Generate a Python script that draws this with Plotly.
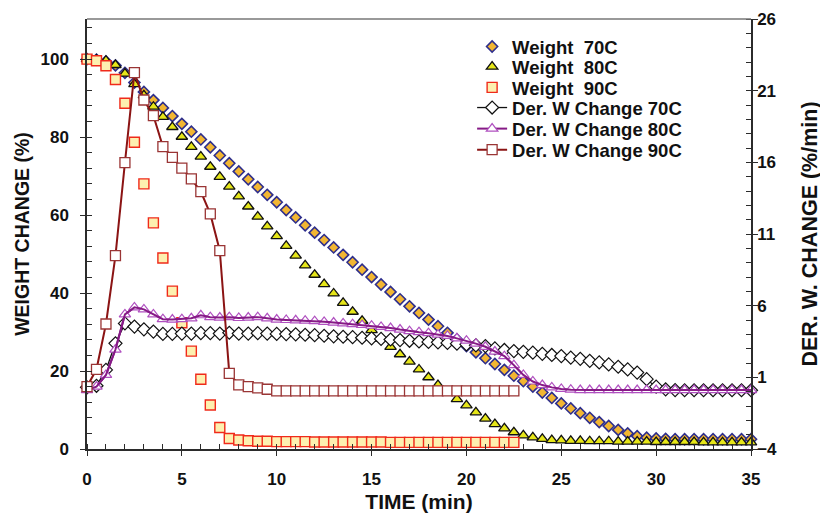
import plotly.graph_objects as go

# ---------------- data ----------------
time_full = [i * 0.5 for i in range(71)]          # 0 .. 35 min
time_90 = [i * 0.5 for i in range(46)]            # 0 .. 22.5 min

weight_70 = [100, 99.9, 99.4, 98.4, 96.5, 94.0, 91.6, 89.5, 87.5, 85.4,
             83.4, 81.4, 79.4, 77.4, 75.3, 73.3, 71.2, 69.2, 67.2, 65.2,
             63.3, 61.3, 59.4, 57.4, 55.5, 53.6, 51.7, 49.8, 47.9, 46.0,
             44.1, 42.2, 40.3, 38.4, 36.6, 34.9, 33.2, 31.5, 29.8, 28.1,
             26.4, 24.8, 23.3, 21.8, 20.3, 18.8, 17.4, 16.0, 14.5, 13.1,
             11.7, 10.4, 9.2, 8.0, 6.9, 5.9, 4.9, 4.0, 3.3, 2.9,
             2.7, 2.6, 2.5, 2.5, 2.5, 2.5, 2.5, 2.5, 2.5, 2.5, 2.5]

weight_80 = [100, 99.9, 99.6, 98.5, 96.3, 93.6, 90.7, 87.8, 85.2, 82.6,
             80.1, 77.5, 75.0, 72.4, 69.8, 67.3, 64.8, 62.2, 59.6, 57.1,
             54.6, 52.1, 49.6, 47.1, 44.7, 42.3, 39.9, 37.5, 35.2, 32.9,
             30.5, 28.3, 26.2, 24.3, 22.4, 20.4, 18.4, 16.4, 14.5, 12.8,
             11.2, 9.4, 7.8, 6.4, 5.3, 4.3, 3.5, 3.0, 2.6, 2.3,
             2.2, 2.1, 2.1, 2.0, 2.0, 2.0, 1.9, 1.9, 1.9, 1.9,
             1.8, 1.8, 1.8, 1.8, 1.8, 1.7, 1.7, 1.7, 1.7, 1.7, 1.7]

weight_90 = [100, 99.6, 98.3, 94.8, 88.7, 78.7, 68.0, 58.0, 49.0, 40.5,
             32.4, 25.1, 17.9, 11.3, 5.5, 2.7, 2.3, 2.1, 2.0, 2.0,
             1.9, 1.9, 1.9, 1.9, 1.8, 1.8, 1.8, 1.8, 1.8, 1.8,
             1.8, 1.8, 1.7, 1.7, 1.7, 1.7, 1.7, 1.7, 1.7, 1.7,
             1.7, 1.7, 1.7, 1.7, 1.7, 1.7]

der_70 = [0.30, 0.41, 1.52, 3.37, 4.76, 4.54, 4.35, 4.19, 4.03, 4.03,
          4.05, 4.05, 4.08, 4.08, 4.05, 4.11, 4.05, 4.05, 4.08, 4.05,
          4.03, 4.02, 4.00, 3.97, 3.94, 3.90, 3.86, 3.83, 3.80, 3.76,
          3.72, 3.68, 3.64, 3.60, 3.55, 3.50, 3.47, 3.44, 3.40, 3.35,
          3.30, 3.23, 3.18, 3.02, 2.91, 2.83, 2.78, 2.72, 2.64, 2.56,
          2.48, 2.37, 2.29, 2.15, 2.04, 1.90, 1.74, 1.55, 1.33, 0.87,
          0.35, 0.16, 0.11, 0.10, 0.10, 0.10, 0.10, 0.10, 0.10, 0.10, 0.10]

der_80 = [0.11, 0.35, 1.17, 2.94, 5.39, 5.88, 5.74, 5.39, 5.06, 5.03,
          5.06, 5.12, 5.33, 5.20, 5.17, 5.20, 5.14, 5.17, 5.20, 5.12,
          5.03, 5.00, 4.98, 4.95, 4.92, 4.87, 4.82, 4.76, 4.71, 4.65,
          4.60, 4.52, 4.44, 4.33, 4.22, 4.15, 4.08, 3.98, 3.89, 3.72,
          3.56, 3.35, 3.13, 2.80, 2.48, 1.85, 1.17, 0.71, 0.46, 0.30,
          0.19, 0.14, 0.11, 0.11, 0.11, 0.11, 0.11, 0.11, 0.11, 0.11,
          0.11, 0.11, 0.11, 0.11, 0.11, 0.11, 0.11, 0.11, 0.11, 0.11, 0.11]

der_90 = [0.35, 1.56, 4.72, 9.49, 15.98, 22.26, 20.35, 19.26, 17.10, 16.35,
          15.60, 14.84, 13.96, 12.40, 9.84, 1.28, 0.47, 0.35, 0.26, 0.17,
          0.05, 0.05, 0.05, 0.05, 0.05, 0.05, 0.05, 0.05, 0.05, 0.05,
          0.05, 0.05, 0.05, 0.05, 0.05, 0.05, 0.05, 0.05, 0.05, 0.05,
          0.05, 0.05, 0.05, 0.05, 0.05, 0.05]

x_ticks = [0, 5, 10, 15, 20, 25, 30, 35]
y_left_ticks = [0, 20, 40, 60, 80, 100]
y_right_ticks = [-4, 1, 6, 11, 16, 21, 26]

names = ["Weight\u00a0 70C", "Weight\u00a0 80C", "Weight\u00a0 90C",
         "Der. W Change 70C", "Der. W Change 80C", "Der. W Change 90C"]

# ---------------- figure ----------------
FONT = "Liberation Sans, Arial, Helvetica, sans-serif"
AX = "#2b2b2b"
PURPLE_LINE = "#861a86"
NB = "\u00a0"

fig = go.Figure()

# derivative curves (right axis)
fig.add_trace(go.Scatter(
    x=time_full, y=der_70, yaxis="y2", name=names[3], legend="legend4",
    mode="lines+markers", cliponaxis=False,
    line=dict(color="#111111", width=1.3),
    marker=dict(symbol="diamond", size=10, color="white",
                line=dict(color="#111111", width=1.2))))
fig.add_trace(go.Scatter(
    x=time_full, y=der_80, yaxis="y2", name=names[4], legend="legend5",
    mode="lines+markers", cliponaxis=False,
    line=dict(color=PURPLE_LINE, width=2),
    marker=dict(symbol="triangle-up", size=10, color="white",
                line=dict(color="#b050c0", width=1.2))))
# line of the 80C derivative drawn again above its markers
fig.add_trace(go.Scatter(
    x=time_full, y=der_80, yaxis="y2", showlegend=False, hoverinfo="skip",
    mode="lines", line=dict(color=PURPLE_LINE, width=2)))
fig.add_trace(go.Scatter(
    x=time_90, y=der_90, yaxis="y2", name=names[5], legend="legend6",
    mode="lines+markers", cliponaxis=False,
    line=dict(color="#8b1414", width=2),
    marker=dict(symbol="square", size=10, color="white",
                line=dict(color="#9a3535", width=1.3))))

# weight curves (left axis)
fig.add_trace(go.Scatter(
    x=time_full, y=weight_70, name=names[0], legend="legend",
    mode="markers", cliponaxis=False,
    marker=dict(symbol="diamond", size=8.5, color="#f2b632",
                line=dict(color="#2e2e8c", width=1.6))))
fig.add_trace(go.Scatter(
    x=time_full, y=weight_80, name=names[1], legend="legend2",
    mode="markers", cliponaxis=False,
    marker=dict(symbol="triangle-up", size=10, color="#e6e619",
                line=dict(color="#111111", width=1.3))))
fig.add_trace(go.Scatter(
    x=time_90, y=weight_90, name=names[2], legend="legend3",
    mode="markers", cliponaxis=False,
    marker=dict(symbol="square", size=10, color="#fdf0b0",
                line=dict(color="#f02a1a", width=1.4))))

# empty traces to carry overlay axes used for inner half of crossing ticks
fig.add_trace(go.Scatter(x=[], y=[], xaxis="x2", yaxis="y3", showlegend=False, hoverinfo="skip"))
fig.add_trace(go.Scatter(x=[], y=[], xaxis="x2", yaxis="y4", showlegend=False, hoverinfo="skip"))

tickfont = dict(family=FONT, size=17, color="#111111", weight="bold")
legfont = dict(family=FONT, size=18.5, color="#111111", weight="bold")

def tfont(size):
    return dict(family=FONT, size=size, color="#111111", weight="bold")

# one legend box per row, so rows can sit as tightly as in the reference
legend_rows_y = [0.935, 0.888, 0.840, 0.793, 0.744, 0.695]
legend_boxes = {}
for i, yy in enumerate(legend_rows_y):
    key = "legend" if i == 0 else f"legend{i + 1}"
    legend_boxes[key] = dict(x=0.58, y=yy, xanchor="left", yanchor="middle",
                             bgcolor="rgba(0,0,0,0)", borderwidth=0,
                             font=legfont)

# the page body adds an 8px offset, so the figure is 8px smaller than the window
fig.update_layout(
    width=820, height=505,
    margin=dict(l=79, r=77, t=11, b=64),
    paper_bgcolor="white", plot_bgcolor="white",
    showlegend=True,
    **legend_boxes,
    xaxis=dict(range=[0, 35], tickvals=x_ticks, showgrid=False, zeroline=False,
               automargin=False,
               showline=True, linecolor=AX, linewidth=1.5,
               ticks="outside", ticklen=5, tickwidth=1.3, tickcolor=AX,
               minor=dict(dtick=1, tick0=0, ticks="inside", ticklen=5,
                          tickwidth=1.2, tickcolor=AX, showgrid=False),
               tickfont=tickfont, ticklabelstandoff=9,
               title=dict(text=NB * 2 + "TIME (min)", font=tfont(21), standoff=9)),
    xaxis2=dict(range=[0, 35], overlaying="x", anchor="y", side="bottom",
                automargin=False,
                tickvals=x_ticks, ticks="inside", ticklen=5, tickwidth=1.3,
                tickcolor=AX, showticklabels=False, showgrid=False,
                zeroline=False, showline=False),
    yaxis=dict(range=[0, 110.3], tickvals=y_left_ticks, showgrid=False,
               automargin=False,
               zeroline=False, showline=True, linecolor=AX, linewidth=1.5,
               ticks="outside", ticklen=5, tickwidth=1.3, tickcolor=AX,
               minor=dict(dtick=4, tick0=0, ticks="inside", ticklen=5,
                          tickwidth=1.2, tickcolor=AX, showgrid=False),
               tickfont=tickfont, ticklabelstandoff=8,
               title=dict(text=NB * 4 + "WEIGHT CHANGE (%)", font=tfont(19.5), standoff=6)),
    yaxis2=dict(range=[-4, 26], tickvals=y_right_ticks, overlaying="y",
                side="right", anchor="x", showgrid=False, zeroline=False,
                automargin=False,
                showline=True, linecolor=AX, linewidth=1.5,
                ticks="outside", ticklen=5, tickwidth=1.3, tickcolor=AX,
                minor=dict(dtick=1, tick0=-4, ticks="inside", ticklen=5,
                           tickwidth=1.2, tickcolor=AX, showgrid=False),
                tickfont=tickfont, ticklabelstandoff=-4,
                title=dict(text="DER. W. CHANGE (%/min)", font=tfont(21.5), standoff=26)),
    yaxis3=dict(range=[0, 110.3], tickvals=y_left_ticks, overlaying="y",
                side="left", anchor="x", ticks="inside", ticklen=5,
                automargin=False,
                tickwidth=1.3, tickcolor=AX, showticklabels=False,
                showgrid=False, zeroline=False, showline=False),
    yaxis4=dict(range=[-4, 26], tickvals=y_right_ticks, overlaying="y",
                side="right", anchor="x", ticks="inside", ticklen=5,
                automargin=False,
                tickwidth=1.3, tickcolor=AX, showticklabels=False,
                showgrid=False, zeroline=False, showline=False),
    shapes=[dict(type="line", xref="paper", yref="paper", x0=0, x1=1, y0=1, y1=1,
                 line=dict(color="#777777", width=1.5))],
)

fig.write_html("out.html")
